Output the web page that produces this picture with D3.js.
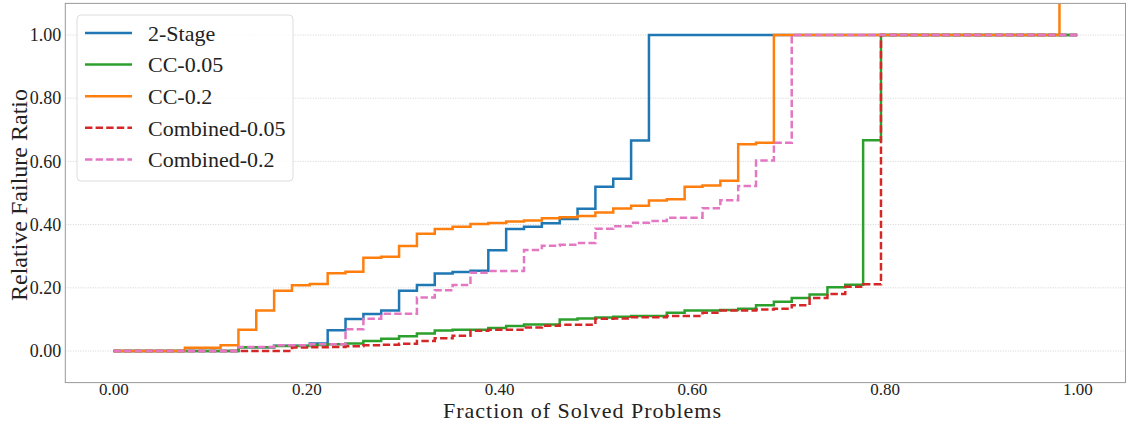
<!DOCTYPE html>
<html><head><meta charset="utf-8">
<script src="https://cdn.jsdelivr.net/npm/d3@7"></script>
<style>body{margin:0;background:#fff;} svg{display:block;}</style>
</head><body>
<svg id="chart" width="1127" height="423"></svg>
<script>
const N = 54;
const seriesNames = ["2-Stage","CC-0.05","CC-0.2","Combined-0.05","Combined-0.2"];
const stage2 = [0,0,0,0,0,0,0,0.012,0.012,0.017,0.017,0.024,0.066,0.101,0.117,0.128,0.191,0.209,0.245,0.250,0.254,0.319,0.386,0.393,0.404,0.418,0.450,0.520,0.545,0.666,
  1,1,1,1,1,1,1,1,1,1,1,1,1,1,1,1,1,1,1,1,1,1,1,1];
const cc005 = [0,0,0,0,0,0,0,0.012,0.012,0.016,0.016,0.019,0.021,0.024,0.032,0.039,0.047,0.055,0.065,0.067,0.067,0.073,0.079,0.084,0.084,0.100,0.103,0.106,0.108,0.111,0.111,0.121,0.128,0.128,0.130,0.134,0.145,0.156,0.168,0.179,0.202,0.210,0.667,
  1,1,1,1,1,1,1,1,1,1,1];
const cc02 = [0,0,0,0,0.010,0.010,0.018,0.067,0.128,0.191,0.208,0.212,0.246,0.251,0.295,0.298,0.332,0.371,0.386,0.393,0.402,0.405,0.410,0.413,0.420,0.423,0.427,0.438,0.451,0.460,0.476,0.480,0.520,0.524,0.539,0.654,0.659,
  1,1,1,1,1,1,1,1,1,1,1,1,1,1,1,1,2];
const comb005 = [0,0,0,0,0,0,0,0,0,0,0.011,0.012,0.013,0.015,0.018,0.020,0.023,0.032,0.040,0.048,0.064,0.067,0.067,0.074,0.080,0.083,0.083,0.102,0.103,0.107,0.107,0.111,0.111,0.121,0.128,0.128,0.131,0.134,0.145,0.168,0.180,0.203,0.211,
  1,1,1,1,1,1,1,1,1,1,1];
const comb02 = [0,0,0,0,0,0,0,0.013,0.013,0.018,0.018,0.021,0.021,0.069,0.102,0.118,0.118,0.169,0.192,0.209,0.248,0.253,0.253,0.320,0.333,0.336,0.342,0.387,0.395,0.406,0.411,0.422,0.422,0.452,0.477,0.522,0.603,0.659,
  1,1,1,1,1,1,1,1,1,1,1,1,1,1,1,1];
const xTicks = [0,0.2,0.4,0.6,0.8,1.0];
const yTicks = [0,0.2,0.4,0.6,0.8,1.0];
const colors = ["#1f77b4","#2ca02c","#ff7f0e","#d62728","#e377c2"];
const dashed = [false,false,false,true,true];
const allValues = [stage2, cc005, cc02, comb005, comb02];

const svg = d3.select("#chart");
const L = 65.3, R = 1125.5, T = 3.4, B = 382.6;
const x = d3.scaleLinear().domain([-0.05,1.05]).range([L,R]);
const y = d3.scaleLinear().domain([-0.1,1.1]).range([B,T]);
const font = "'Liberation Serif', serif";

svg.append("defs").append("clipPath").attr("id","clip")
  .append("rect").attr("x",L).attr("y",T).attr("width",R-L).attr("height",B-T);

// grid
svg.append("g").selectAll("line").data(yTicks).join("line")
  .attr("x1",L).attr("x2",R).attr("y1",d=>y(d)).attr("y2",d=>y(d))
  .attr("stroke","#c8c8c8").attr("stroke-width",0.8).attr("stroke-dasharray","1,1.5");

// lines
const line = d3.line().x(d=>x(d[0])).y(d=>y(d[1])).curve(d3.curveStepAfter);
const g = svg.append("g").attr("clip-path","url(#clip)");
allValues.forEach((vals,si)=>{
  const pts = vals.map((v,i)=>[i/N, v]);
  pts.push([1.0, vals[vals.length-1]]);
  g.append("path").datum(pts).attr("d",line).attr("fill","none")
    .attr("stroke",colors[si]).attr("stroke-width",2.5)
    .attr("stroke-dasharray",dashed[si]?"7.4,3.2":null);
});

// spines
svg.append("rect").attr("x",L).attr("y",T).attr("width",R-L).attr("height",B-T)
  .attr("fill","none").attr("stroke","#999").attr("stroke-width",1);

// axes
const xAxis = d3.axisBottom(x).tickValues(xTicks).tickFormat(d3.format(".2f")).tickSize(0).tickPadding(0);
const xa = svg.append("g").attr("transform",`translate(0,${B})`).call(xAxis);
xa.select(".domain").remove();
xa.selectAll("text").attr("font-family",font).attr("font-size",17).attr("fill","#222");
const yAxis = d3.axisLeft(y).tickValues(yTicks).tickFormat(d3.format(".2f")).tickSize(0).tickPadding(4);
const ya = svg.append("g").attr("transform",`translate(${L},0)`).call(yAxis);
ya.select(".domain").remove();
ya.selectAll("text").attr("font-family",font).attr("font-size",18).attr("fill","#222");

svg.append("text").attr("x",582).attr("y",418).attr("text-anchor","middle")
  .attr("font-family",font).attr("font-size",22).attr("fill","#222")
  .attr("textLength",278).attr("lengthAdjust","spacing").text("Fraction of Solved Problems");
svg.append("text").attr("transform",`translate(27,${(T+B)/2+2}) rotate(-90)`).attr("text-anchor","middle")
  .attr("font-family",font).attr("font-size",24).attr("fill","#222").text("Relative Failure Ratio");

// legend
const lg = svg.append("g");
lg.append("rect").attr("x",77).attr("y",15).attr("width",216).attr("height",166).attr("rx",4)
  .attr("fill","#fff").attr("fill-opacity",0.8).attr("stroke","#ddd");
seriesNames.forEach((name,i)=>{
  const yy = 33 + i*31.6;
  lg.append("line").attr("x1",85).attr("x2",132).attr("y1",yy).attr("y2",yy)
    .attr("stroke",colors[i]).attr("stroke-width",2.5).attr("stroke-dasharray",dashed[i]?"7.4,3.2":null);
  lg.append("text").attr("x",148).attr("y",yy).attr("dy","0.35em")
    .attr("font-family",font).attr("font-size",22).attr("fill","#222").text(name);
});
</script>
</body></html>
